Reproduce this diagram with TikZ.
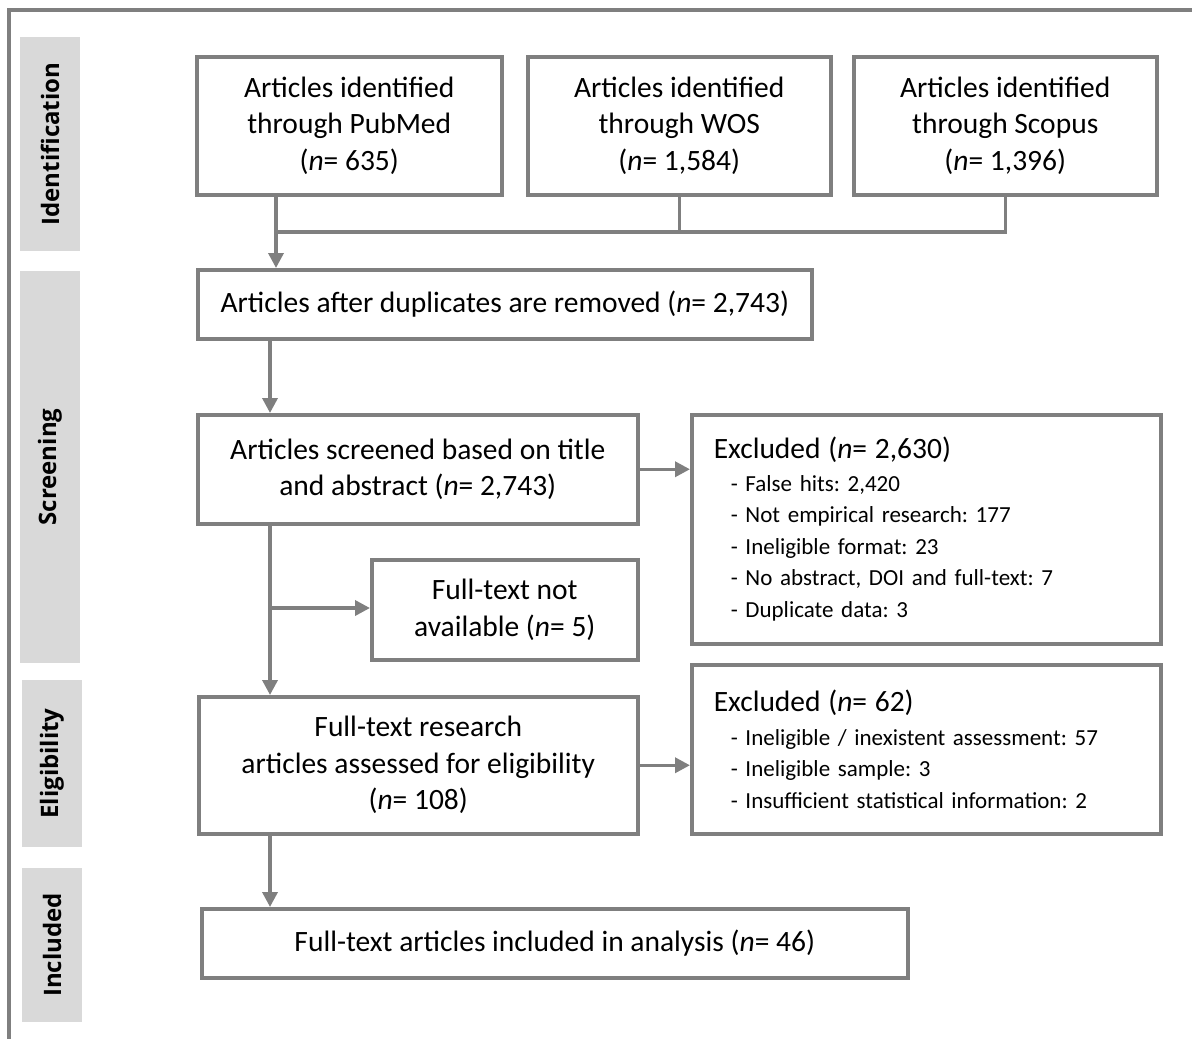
\documentclass[tikz,border=0pt]{standalone}
\usepackage{fontspec}
\setmainfont{Carlito}
\newfontfamily\sidefont{Open Sans}
\usepackage{tikz}
\usetikzlibrary{arrows.meta,positioning,calc}
\definecolor{linegray}{HTML}{7F7F7F}
\definecolor{bandgray}{HTML}{D9D9D9}
\newcommand{\mainsize}{\fontsize{29.5}{36.5}\selectfont}
\newcommand{\itemsize}{\fontsize{23}{31.5}\selectfont}
\frenchspacing

\begin{document}
\begin{tikzpicture}[
  x=1pt,y=-1pt,
  box/.style={draw=linegray,line width=3.5pt,fill=white,align=center,inner sep=0pt,anchor=north west,font=\mainsize},
  exbox/.style={box,align=left,inner xsep=22pt,text width=425pt,font=\itemsize},
  band/.style={fill=bandgray,rotate=90,minimum height=60pt,inner sep=0pt,font=\sidefont\bfseries\fontsize{24}{28}\selectfont},
  arr/.style={-{Triangle[length=15pt,width=15pt]},line width=3.5pt,linegray},
  link/.style={line width=3.5pt,linegray}
]
\useasboundingbox (0,0) rectangle (1192,1039);
% frame
\draw[linegray,line width=3.5pt] (1192,10) -- (9,10) -- (9,1039);
% phase bands
\node[band,minimum width=214pt] (idband) at (50,144) {Identification};
\node[band,minimum width=392pt] (scband) at (50,467) {Screening};
\node[band,minimum width=167pt] (elband) at (52,763.5) {Eligibility};
\node[band,minimum width=154pt] (inband) at (52,945) {Included};
% records
\node[box,minimum width=305pt,minimum height=138pt] (pub) at (195,55) {Articles identified\\through PubMed\\(\textit{n}= 635)};
\node[box,minimum width=303pt,minimum height=138pt] (wos) at (526,55) {Articles identified\\through WOS\\(\textit{n}= 1,584)};
\node[box,minimum width=303pt,minimum height=138pt] (sco) at (852,55) {Articles identified\\through Scopus\\(\textit{n}= 1,396)};
\node[box,minimum width=614pt,minimum height=69pt] (dups) at (196,268) {Articles after duplicates are removed (\textit{n}= 2,743)};
\node[box,minimum width=440pt,minimum height=109pt] (scr) at (196,413) {Articles screened based on title\\and abstract (\textit{n}= 2,743)};
\node[exbox,minimum height=229pt] (exc1) at (690,413) {{\mainsize Excluded (\textit{n}= 2,630)}\\[1pt]
  \hspace*{17pt}- False hits: 2,420\\
  \hspace*{17pt}- Not empirical research: 177\\
  \hspace*{17pt}- Ineligible format: 23\\
  \hspace*{17pt}- No abstract, DOI and full-text: 7\\
  \hspace*{17pt}- Duplicate data: 3};
\node[box,minimum width=266pt,minimum height=100pt] (nfa) at (370,558) {Full-text not\\available (\textit{n}= 5)};
\node[box,minimum width=439pt,minimum height=137pt] (ftr) at (197,695) {Full-text research\\articles assessed for eligibility\\(\textit{n}= 108)};
\node[exbox,minimum height=169pt] (exc2) at (690,663) {{\mainsize Excluded (\textit{n}= 62)}\\[2pt]
  \hspace*{17pt}- Ineligible / inexistent assessment: 57\\
  \hspace*{17pt}- Ineligible sample: 3\\
  \hspace*{17pt}- Insufficient statistical information: 2};
\node[box,minimum width=706pt,minimum height=69pt] (inc) at (200,907) {Full-text articles included in analysis (\textit{n}= 46)};
% connectors
\coordinate (join) at (276,232);
\coordinate (spine) at (270,608);
\draw[link] (sco.south) |- (join);
\draw[link] (wos.south) -- (wos.south |- join);
\draw[arr] (pub.south -| join) -- (dups.north -| join);
\draw[arr] (dups.south -| spine) -- (scr.north -| spine);
\draw[arr] (scr.east) -- (exc1.west |- scr.east);
\draw[arr] (scr.south -| spine) -- (ftr.north -| spine);
\draw[arr] (spine) -- (spine -| nfa.west);
\draw[arr] (ftr.east) -- (exc2.west |- ftr.east);
\draw[arr] (ftr.south -| spine) -- (inc.north -| spine);
\end{tikzpicture}
\end{document}
